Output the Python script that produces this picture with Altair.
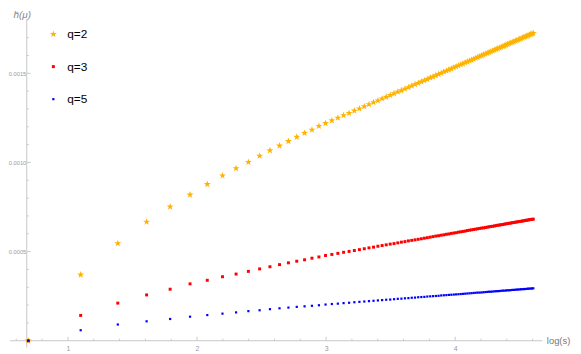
import altair as alt
import pandas as pd

# ---------------- data ----------------
s_values = list(range(2, 101))

h_q2 = [
    0.0, 0.000370, 0.000546, 0.000667, 0.000752, 0.000819, 0.000878, 0.000926, 0.000967,
    0.001002, 0.001037, 0.001067, 0.001094, 0.001119, 0.001143, 0.001165, 0.001183, 0.001204, 0.001220,
    0.001235, 0.001250, 0.001264, 0.001277, 0.001290, 0.001302, 0.001314, 0.001326, 0.001337, 0.001347,
    0.001358, 0.001367, 0.001377, 0.001387, 0.001396, 0.001404, 0.001413, 0.001421, 0.001430, 0.001438,
    0.001445, 0.001453, 0.001460, 0.001467, 0.001475, 0.001481, 0.001488, 0.001495, 0.001501, 0.001508,
    0.001514, 0.001520, 0.001526, 0.001532, 0.001538, 0.001543, 0.001549, 0.001554, 0.001560, 0.001565,
    0.001570, 0.001575, 0.001580, 0.001585, 0.001590, 0.001595, 0.001600, 0.001604, 0.001609, 0.001613,
    0.001618, 0.001622, 0.001626, 0.001631, 0.001635, 0.001639, 0.001643, 0.001647, 0.001651, 0.001655,
    0.001659, 0.001663, 0.001667, 0.001671, 0.001674, 0.001678, 0.001682, 0.001685, 0.001689, 0.001692,
    0.001696, 0.001699, 0.001703, 0.001706, 0.001709, 0.001712, 0.001716, 0.001719, 0.001722, 0.001725,
]

h_q3 = [
    0.0, 0.000142, 0.000211, 0.000257, 0.000289, 0.000319, 0.000339, 0.000359, 0.000374,
    0.000389, 0.000403, 0.000415, 0.000427, 0.000437, 0.000446, 0.000454, 0.000463, 0.000470, 0.000478,
    0.000484, 0.000490, 0.000496, 0.000501, 0.000506, 0.000511, 0.000516, 0.000521, 0.000525, 0.000530,
    0.000534, 0.000538, 0.000542, 0.000545, 0.000549, 0.000553, 0.000556, 0.000560, 0.000563, 0.000566,
    0.000569, 0.000572, 0.000575, 0.000578, 0.000581, 0.000584, 0.000587, 0.000589, 0.000592, 0.000594,
    0.000597, 0.000599, 0.000602, 0.000604, 0.000606, 0.000609, 0.000611, 0.000613, 0.000615, 0.000618,
    0.000620, 0.000622, 0.000624, 0.000626, 0.000628, 0.000630, 0.000632, 0.000633, 0.000635, 0.000637,
    0.000639, 0.000641, 0.000642, 0.000644, 0.000646, 0.000648, 0.000649, 0.000651, 0.000652, 0.000654,
    0.000656, 0.000657, 0.000659, 0.000660, 0.000662, 0.000663, 0.000665, 0.000666, 0.000668, 0.000669,
    0.000670, 0.000672, 0.000673, 0.000675, 0.000676, 0.000677, 0.000679, 0.000680, 0.000681, 0.000682,
]

h_q5 = [
    0.0, 0.000059, 0.000091, 0.000109, 0.000122, 0.000135, 0.000144, 0.000152, 0.000159,
    0.000166, 0.000171, 0.000177, 0.000182, 0.000186, 0.000190, 0.000193, 0.000196, 0.000199, 0.000203,
    0.000206, 0.000208, 0.000211, 0.000213, 0.000216, 0.000218, 0.000220, 0.000222, 0.000224, 0.000226,
    0.000228, 0.000230, 0.000231, 0.000233, 0.000235, 0.000236, 0.000238, 0.000239, 0.000241, 0.000242,
    0.000244, 0.000245, 0.000246, 0.000248, 0.000249, 0.000250, 0.000251, 0.000252, 0.000254, 0.000255,
    0.000256, 0.000257, 0.000258, 0.000259, 0.000260, 0.000261, 0.000262, 0.000263, 0.000264, 0.000265,
    0.000266, 0.000267, 0.000268, 0.000269, 0.000270, 0.000270, 0.000271, 0.000272, 0.000273, 0.000274,
    0.000275, 0.000275, 0.000276, 0.000277, 0.000278, 0.000278, 0.000279, 0.000280, 0.000281, 0.000281,
    0.000282, 0.000283, 0.000283, 0.000284, 0.000285, 0.000285, 0.000286, 0.000287, 0.000287, 0.000288,
    0.000289, 0.000289, 0.000290, 0.000290, 0.000291, 0.000292, 0.000292, 0.000293, 0.000293, 0.000294,
]

series_labels = ["q=2", "q=3", "q=5"]
series_colors = ["#FFB300", "#FF0000", "#0000FF"]
STAR = ("M0,-1L0.235,-0.324L0.951,-0.309L0.38,0.124L0.588,0.809L0,0.4"
        "L-0.588,0.809L-0.38,0.124L-0.951,-0.309L-0.235,-0.324Z")
series_shapes = [STAR, "square", "square"]
series_sizes = [55, 9, 5]

x_major = [1, 2, 3, 4]
x_minor = [0.6, 0.8, 1.2, 1.4, 1.6, 1.8, 2.2, 2.4, 2.6, 2.8, 3.2, 3.4, 3.6, 3.8, 4.2, 4.4, 4.6]
y_major = [0.0005, 0.0010, 0.0015]
y_minor = [0.0001, 0.0002, 0.0003, 0.0004, 0.0006, 0.0007, 0.0008, 0.0009,
           0.0011, 0.0012, 0.0013, 0.0014, 0.0016, 0.0017, 0.0018]

# ---------------- layout ----------------
W, H = 523, 326
X_DOMAIN = [0.6807, 4.676]
Y_DOMAIN = [0.0, 0.001803]
AXIS_COLOR = "#c8c8c8"
TEXT_COLOR = "#9a9a9a"
FONT = "Liberation Sans"

rows = []
for lab, vals in zip(series_labels, [h_q2, h_q3, h_q5]):
    for s, v in zip(s_values, vals):
        rows.append({"s": s, "h": v, "q": lab})
df = pd.DataFrame(rows)

xs = alt.Scale(domain=X_DOMAIN, nice=False, zero=False)
ys = alt.Scale(domain=Y_DOMAIN, nice=False, zero=False)

x_axis = alt.Axis(orient="bottom", values=x_major, format="d", domain=False, ticks=False, grid=False,
                  labelFontSize=7, labelColor=TEXT_COLOR, labelFont=FONT, labelPadding=4,
                  title="log(s)", titleX=W + 4, titleY=0, titleAlign="left",
                  titleBaseline="middle", titleFontSize=9.5, titleColor="#777777",
                  titleFont=FONT, titleFontWeight="normal")
y_axis = alt.Axis(orient="left", values=y_major, format=".4f", domain=False, ticks=False, grid=False,
                  labelFontSize=5.8, labelColor=TEXT_COLOR, labelFont=FONT, labelPadding=1,
                  title="h\u0304(\u03bc)", titleAngle=0, titleX=-5, titleY=0,
                  titleAlign="center", titleBaseline="bottom", titleFontSize=10,
                  titleColor="#888888", titleFont=FONT, titleFontStyle="italic",
                  titleFontWeight="normal")

legend = alt.Legend(orient="none", legendX=21, legendY=9, title=None,
                    labelFontSize=12, labelFont=FONT, labelColor="black",
                    rowPadding=21, labelOffset=8, padding=0, symbolStrokeWidth=0,
                    symbolOpacity=1)

points = alt.Chart(df).transform_calculate(
    logs="log(datum.s)"
).mark_point(filled=True, opacity=1).encode(
    x=alt.X("logs:Q", scale=xs, axis=x_axis),
    y=alt.Y("h:Q", scale=ys, axis=y_axis),
    color=alt.Color("q:N", scale=alt.Scale(domain=series_labels, range=series_colors), legend=legend),
    shape=alt.Shape("q:N", scale=alt.Scale(domain=series_labels, range=series_shapes), legend=legend),
    size=alt.Size("q:N", scale=alt.Scale(type="ordinal", domain=series_labels, range=series_sizes),
                  legend=legend),
)

one = pd.DataFrame({"a": [0]})
x_line = alt.Chart(one).mark_rule(color=AXIS_COLOR, strokeWidth=1).encode(
    x=alt.value(-17), x2=alt.value(W), y=alt.value(H))
y_line = alt.Chart(one).mark_rule(color=AXIS_COLOR, strokeWidth=1).encode(
    x=alt.value(0), y=alt.value(0), y2=alt.value(H + 7))

xmaj = alt.Chart(pd.DataFrame({"t": x_major})).mark_rule(color=AXIS_COLOR).encode(
    x=alt.X("t:Q", scale=xs, axis=x_axis), y=alt.value(H), y2=alt.value(H - 4))
xmin = alt.Chart(pd.DataFrame({"t": x_minor})).mark_rule(color=AXIS_COLOR).encode(
    x=alt.X("t:Q", scale=xs, axis=x_axis), y=alt.value(H), y2=alt.value(H - 2))
ymaj = alt.Chart(pd.DataFrame({"t": y_major})).mark_rule(color=AXIS_COLOR).encode(
    y=alt.Y("t:Q", scale=ys, axis=y_axis), x=alt.value(0), x2=alt.value(4))
ymin = alt.Chart(pd.DataFrame({"t": y_minor})).mark_rule(color=AXIS_COLOR).encode(
    y=alt.Y("t:Q", scale=ys, axis=y_axis), x=alt.value(0), x2=alt.value(2))

chart = alt.layer(x_line, y_line, xmaj, xmin, ymaj, ymin, points).properties(
    width=W, height=H,
    autosize=alt.AutoSizeParams(type="none"),
    padding={"left": 19, "top": 9, "right": 31, "bottom": 11},
).configure_view(stroke=None)

chart.save("out.html", embed_options={"renderer": "svg", "actions": False})
